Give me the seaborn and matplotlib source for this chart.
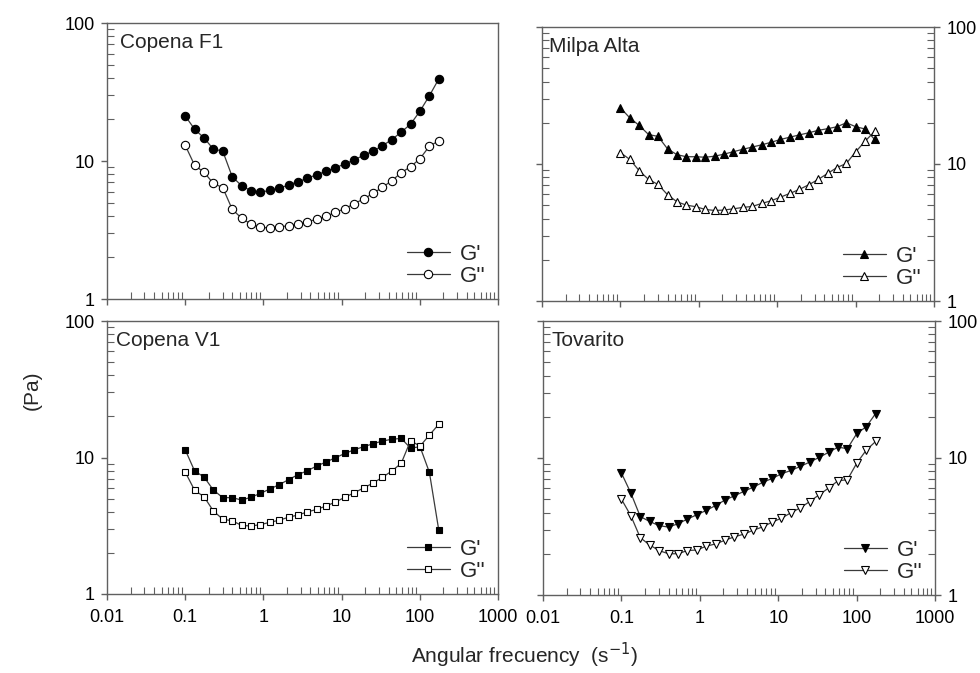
import matplotlib
matplotlib.use("Agg")
import matplotlib.pyplot as plt
import matplotlib.ticker as mticker
import numpy as np
import seaborn as sns

# angular frequency (rad/s), same sweep for every sample
freq = [0.1, 0.132, 0.174, 0.229, 0.302, 0.399, 0.526, 0.693, 0.914, 1.205,
        1.589, 2.095, 2.763, 3.643, 4.803, 6.333, 8.35, 11.01, 14.52, 19.14,
        25.24, 33.28, 43.88, 57.86, 76.29, 100.6, 132.6, 174.8]

copena_f1_g1 = [21.2, 17.0, 14.7, 12.2, 11.8, 7.7, 6.62, 6.09, 5.93, 6.13,
                6.34, 6.70, 7.08, 7.49, 7.96, 8.42, 8.95, 9.51, 10.2, 11.0,
                11.8, 12.9, 14.3, 16.2, 18.5, 23.0, 29.7, 39.3]
copena_f1_g2 = [13.0, 9.31, 8.28, 6.89, 6.41, 4.47, 3.85, 3.49, 3.31, 3.27,
                3.32, 3.40, 3.49, 3.63, 3.78, 3.97, 4.25, 4.51, 4.91, 5.31,
                5.83, 6.45, 7.20, 8.23, 9.09, 10.4, 12.8, 14.0]

milpa_g1 = [25.7, 21.7, 19.1, 16.4, 15.9, 12.9, 11.7, 11.3, 11.3, 11.2,
            11.4, 11.8, 12.3, 12.8, 13.3, 13.8, 14.4, 15.1, 15.7, 16.3,
            16.9, 17.6, 18.1, 18.7, 20.0, 18.7, 18.0, 15.1]
milpa_g2 = [12.1, 10.8, 8.92, 7.71, 7.09, 5.97, 5.30, 5.01, 4.88, 4.66,
            4.58, 4.61, 4.71, 4.82, 4.90, 5.15, 5.39, 5.73, 6.10, 6.52,
            7.05, 7.71, 8.53, 9.42, 10.1, 12.3, 14.7, 17.3]

copena_v1_g1 = [11.4, 7.96, 7.20, 5.78, 5.08, 5.08, 4.88, 5.11, 5.46, 5.87,
                6.32, 6.88, 7.48, 8.00, 8.66, 9.27, 9.97, 10.7, 11.4, 12.0,
                12.6, 13.2, 13.6, 13.8, 11.7, 12.0, 7.79, 2.94]
copena_v1_g2 = [7.83, 5.75, 5.16, 4.06, 3.53, 3.44, 3.18, 3.15, 3.22, 3.35,
                3.47, 3.65, 3.79, 3.99, 4.17, 4.41, 4.72, 5.11, 5.52, 5.98,
                6.50, 7.16, 7.96, 9.07, 13.3, 12.1, 14.6, 17.5]

tovarito_g1 = [7.77, 5.55, 3.74, 3.44, 3.21, 3.13, 3.31, 3.58, 3.85, 4.14,
               4.50, 4.93, 5.30, 5.70, 6.13, 6.63, 7.09, 7.67, 8.11, 8.68,
               9.34, 10.1, 11.0, 12.0, 11.7, 15.1, 16.9, 21.1]
tovarito_g2 = [5.01, 3.79, 2.62, 2.32, 2.11, 2.00, 2.00, 2.11, 2.13, 2.27,
               2.36, 2.51, 2.66, 2.78, 2.97, 3.14, 3.40, 3.64, 3.98, 4.33,
               4.81, 5.39, 6.03, 6.82, 6.94, 9.18, 11.4, 13.2]

samples = ["Copena F1", "Milpa Alta", "Copena V1", "Tovarito"]
storage = [copena_f1_g1, milpa_g1, copena_v1_g1, tovarito_g1]
loss = [copena_f1_g2, milpa_g2, copena_v1_g2, tovarito_g2]
markers = ["o", "^", "s", "v"]
msizes = [6, 6, 5, 6]

x_ticks = [0.01, 0.1, 1, 10, 100, 1000]
y_ticks = [1, 10, 100]

sns.set_style("white")
plt.rcParams['font.family'] = ['Liberation Sans', 'DejaVu Sans']

fig = plt.figure(figsize=(9.8, 6.73), dpi=100)
W, H = 980.0, 673.0
# panel boxes in pixels: left, top, right, bottom
boxes = [(107, 23, 498, 299), (542, 27, 934, 301),
         (107, 321, 498, 594), (543, 321, 935, 595)]
title_dx = [0.033, 0.017, 0.024, 0.022]

spine_col = "#606060"
line_col = "#3a3a3a"

for i, name in enumerate(samples):
    l, t, r, b = boxes[i]
    ax = fig.add_axes([l / W, 1 - b / H, (r - l) / W, (b - t) / H])

    sns.lineplot(x=freq, y=storage[i], ax=ax, sort=False, estimator=None,
                 color=line_col, lw=0.9, marker=markers[i], ms=msizes[i],
                 mfc="black", mec="black", mew=0.8, label="G'")
    sns.lineplot(x=freq, y=loss[i], ax=ax, sort=False, estimator=None,
                 color=line_col, lw=0.9, marker=markers[i], ms=msizes[i],
                 mfc="white", mec="black", mew=0.8, label="G''")

    ax.set_xscale("log")
    ax.set_yscale("log")
    ax.set_xlim(0.01, 1000)
    ax.set_ylim(1, 100)
    ax.set_xticks(x_ticks)
    ax.set_yticks(y_ticks)
    ax.xaxis.set_major_formatter(mticker.FuncFormatter(lambda v, p: "%g" % v))
    ax.yaxis.set_major_formatter(mticker.FuncFormatter(lambda v, p: "%g" % v))
    ax.xaxis.set_minor_locator(mticker.LogLocator(base=10, subs=np.arange(2, 10)))
    ax.yaxis.set_minor_locator(mticker.LogLocator(base=10, subs=np.arange(2, 10)))
    ax.xaxis.set_minor_formatter(mticker.NullFormatter())
    ax.yaxis.set_minor_formatter(mticker.NullFormatter())

    for sp in ax.spines.values():
        sp.set_color(spine_col)
        sp.set_linewidth(1.0)

    right_col = i % 2 == 1
    top_row = i < 2
    ax.tick_params(which="major", direction="out", length=4, width=1,
                   color=spine_col, labelsize=13, labelcolor="black", pad=5)
    ax.tick_params(which="minor", direction="in", length=5, width=0.8,
                   color=spine_col)
    ax.tick_params(axis="x", which="both", bottom=True, top=False,
                   labelbottom=not top_row)
    ax.tick_params(axis="x", which="major", pad=7)
    ax.tick_params(axis="y", which="both", left=True, right=right_col,
                   labelleft=not right_col, labelright=right_col)

    ax.set_xlabel("")
    ax.set_ylabel("")

    ax.text(title_dx[i], 0.965, name, transform=ax.transAxes, ha="left",
            va="top", fontsize=15)

    ax.legend(loc="lower right", frameon=False, fontsize=16,
              handlelength=1.95, handletextpad=0.45, labelspacing=0.05,
              borderaxespad=0.15)

fig.text(32 / W, 1 - 390 / H, "(Pa)", rotation=90, ha="center", va="center",
         fontsize=15)
fig.text(525 / W, 1 - 655 / H, "Angular frecuency  (s$^{-1}$)", ha="center",
         va="center", fontsize=15)

fig.savefig("out.png", dpi=100)
